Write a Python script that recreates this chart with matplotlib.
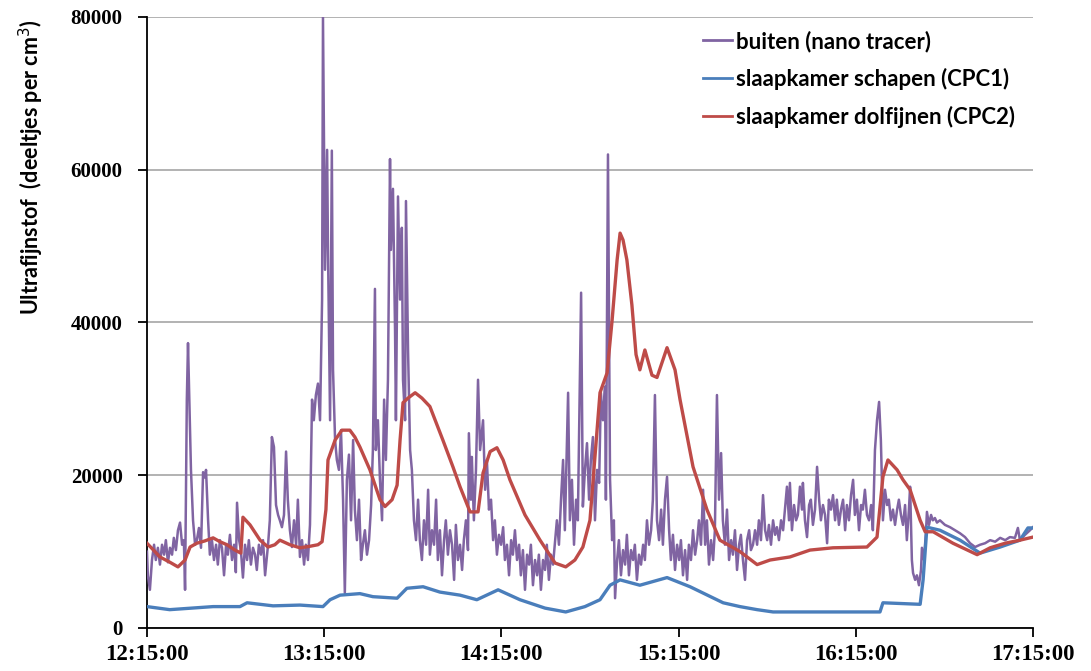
import matplotlib
matplotlib.use("Agg")
import matplotlib.pyplot as plt
from matplotlib.font_manager import FontProperties

# minutes after 12:15:00 and particle counts (deeltjes per cm3)
buiten_t = [
    0.0, 0.3, 1.0, 1.7, 2.4, 3.0, 3.7, 4.4, 5.1, 5.8, 6.4, 7.1, 7.8, 8.5, 9.1, 9.8, 10.5, 11.2, 11.9, 12.5,
    12.9, 13.5, 13.9, 14.2, 14.9, 15.6, 16.3, 16.9, 17.6, 18.3, 19.0, 19.6, 20.0, 20.7, 21.3, 22.0, 22.7, 23.4,
    24.0, 24.7, 25.4, 26.1, 26.8, 27.4, 28.1, 28.8, 29.5, 30.1, 30.5, 31.2, 31.8, 32.5, 33.2, 33.9, 34.5, 35.2,
    35.9, 36.6, 37.2, 37.9, 38.6, 39.3, 40.0, 41.0, 41.6, 42.3, 43.0, 43.7, 44.4, 45.0, 45.7, 46.4, 47.1, 47.7,
    48.4, 49.1, 49.8, 50.5, 51.1, 51.8, 52.5, 53.2, 53.8, 54.5, 55.2, 55.9, 56.5, 57.2, 57.9, 58.6, 59.3, 59.6,
    59.9, 60.3, 61.0, 61.3, 62.0, 62.6, 63.0, 63.7, 64.3, 65.0, 65.7, 66.4, 67.0, 67.7, 68.4, 69.1, 69.8, 70.4,
    71.1, 71.8, 72.5, 73.1, 73.8, 74.5, 75.2, 75.9, 76.5, 77.2, 77.5, 78.2, 78.9, 79.6, 80.3, 80.9, 81.6, 82.3,
    82.6, 83.3, 84.0, 84.3, 85.0, 85.7, 86.3, 86.7, 87.4, 87.7, 88.4, 89.1, 89.7, 90.4, 91.1, 91.8, 92.4, 93.1,
    93.8, 94.5, 95.2, 95.8, 96.5, 97.2, 97.9, 98.5, 99.2, 99.9, 100.6, 101.2, 101.9, 102.6, 103.3, 104.0, 104.6,
    105.3, 106.0, 106.7, 107.3, 108.0, 108.7, 109.0, 109.7, 110.0, 110.7, 111.4, 112.1, 112.8, 113.8, 114.5,
    115.1, 115.8, 116.5, 117.2, 117.8, 118.5, 119.2, 119.9, 120.6, 121.2, 121.9, 122.6, 123.3, 123.9, 124.6,
    125.3, 126.0, 126.6, 127.3, 128.0, 128.7, 129.4, 130.0, 130.7, 131.4, 132.1, 132.7, 133.4, 134.1, 134.8,
    135.4, 136.1, 136.8, 137.5, 138.2, 138.8, 139.5, 140.2, 140.9, 141.5, 142.6, 143.2, 143.9, 144.6, 145.3,
    145.9, 147.0, 147.6, 148.3, 149.0, 149.7, 150.3, 151.0, 151.7, 152.4, 153.1, 153.7, 154.4, 155.1, 155.4,
    156.1, 156.8, 157.5, 158.1, 158.5, 159.2, 159.8, 160.5, 161.2, 161.9, 162.5, 163.2, 163.9, 164.6, 165.2,
    165.9, 166.6, 167.3, 168.0, 168.6, 169.3, 170.0, 170.7, 171.3, 172.0, 172.7, 173.4, 174.1, 174.7, 175.4,
    176.1, 176.8, 177.4, 178.1, 178.8, 179.5, 180.2, 180.8, 181.5, 182.2, 182.9, 183.5, 184.2, 184.9, 185.6,
    186.3, 186.9, 187.6, 188.3, 189.0, 189.6, 190.3, 191.0, 191.7, 192.3, 193.0, 193.7, 194.4, 195.0, 195.7,
    196.4, 197.1, 197.8, 198.4, 199.1, 199.8, 200.5, 201.1, 201.8, 202.5, 203.2, 203.9, 204.5, 205.2, 205.9,
    206.6, 207.2, 207.9, 208.6, 209.3, 210.0, 210.6, 211.3, 212.0, 212.7, 213.3, 214.0, 214.7, 215.4, 216.0,
    216.7, 217.4, 217.7, 218.4, 219.1, 219.8, 220.4, 221.1, 221.8, 222.1, 222.8, 223.5, 224.2, 224.8, 225.5,
    226.2, 226.9, 227.6, 228.2, 228.9, 229.6, 230.3, 230.9, 231.6, 232.3, 233.0, 233.6, 234.3, 235.0, 235.7,
    236.4, 237.0, 237.7, 238.4, 239.1, 239.7, 240.4, 241.1, 241.8, 242.4, 243.1, 243.8, 244.5, 245.2, 245.8,
    246.5, 247.2, 247.9, 248.5, 249.2, 249.9, 250.6, 251.2, 251.9, 252.6, 253.3, 254.0, 254.6, 255.3, 256.0,
    256.7, 257.3, 258.0, 258.4, 259.0, 259.4, 260.1, 260.7, 261.4, 262.1, 262.4, 263.1, 263.8, 264.1, 264.8,
    265.5, 266.1, 266.8, 267.5, 268.5, 270.2, 271.9, 273.6, 275.3, 277.0, 278.7, 280.4, 282.1, 283.8, 285.5,
    287.2, 288.9, 290.6, 292.2, 293.9, 294.9, 295.6, 297.3, 299.0, 300.0,
]
buiten_v = [
    10000, 6900, 5000, 8900, 10900, 8900, 10500, 8300, 10900, 9600, 11500, 8600, 10500, 9600, 11800, 10200,
    12800, 13800, 10900, 11500, 5000, 29900, 37300, 32500, 20700, 14100, 10900, 11500, 13100, 10500, 20400,
    19700, 20700, 14100, 9600, 11500, 8900, 10900, 8300, 11500, 10500, 6900, 10900, 9600, 12200, 8900, 10900,
    7300, 16400, 11500, 10200, 6600, 10900, 8900, 11500, 8300, 10500, 9600, 7600, 10900, 9600, 11500, 6900,
    10900, 14100, 25000, 23700, 16100, 14800, 14100, 13200, 14800, 23100, 16800, 12800, 10600, 14100, 10900,
    16800, 9300, 11500, 8300, 10900, 8900, 13500, 29900, 27200, 30500, 32000, 27200, 43000, 80000, 65500,
    46900, 62600, 49500, 27200, 62500, 33800, 24600, 22000, 20700, 25900, 16800, 4600, 19400, 22700, 14100,
    24600, 15500, 11500, 16800, 8900, 10900, 12800, 9600, 11500, 16100, 23300, 44400, 23300, 27200, 19400,
    14100, 29900, 22000, 32500, 61400, 49500, 57500, 39000, 27200, 56500, 43000, 52400, 32500, 27200, 55900,
    36400, 23300, 20700, 14100, 11500, 16800, 11500, 8900, 14100, 10900, 18100, 9600, 12800, 10900, 16800,
    8900, 12800, 6900, 11500, 14100, 9600, 12800, 10900, 6300, 13500, 8900, 10900, 7600, 11500, 14100, 10200,
    25500, 16800, 22400, 14100, 20700, 32500, 23300, 27200, 18100, 22000, 15500, 16800, 11500, 14100, 9600,
    12200, 10900, 13200, 8900, 10900, 6900, 11500, 9600, 12800, 8900, 10900, 6900, 10200, 5000, 9600, 8300,
    10900, 5600, 8900, 6900, 9600, 5000, 8900, 7600, 10900, 6300, 9600, 8300, 11500, 14100, 10900, 16800,
    22000, 12800, 30800, 14100, 19400, 10900, 16800, 14100, 43900, 15900, 20700, 24200, 16800, 22000, 25000,
    14100, 20700, 19000, 30800, 27200, 31600, 16800, 62000, 19400, 11500, 14100, 3900, 8900, 11500, 6900,
    10200, 8300, 12200, 6900, 10200, 8900, 10900, 6300, 9600, 8300, 10900, 8900, 14100, 10900, 12800, 16800,
    30500, 14100, 11500, 15500, 10900, 16800, 19800, 12800, 8900, 12200, 7600, 10900, 8900, 11500, 6900,
    10200, 6300, 10900, 8900, 12800, 9600, 11500, 14100, 10900, 18100, 10900, 14100, 8300, 11500, 8900,
    12800, 30500, 16800, 22900, 14100, 10900, 15500, 8900, 11500, 9600, 12800, 7600, 10900, 12200, 8900,
    6300, 11500, 12800, 10200, 10900, 12800, 10900, 14100, 11500, 17400, 12800, 11500, 13500, 10900, 14100,
    12200, 13200, 11500, 14100, 12800, 15500, 18500, 14100, 19000, 12800, 16100, 14100, 14800, 18500, 15500,
    19000, 14100, 11900, 16100, 16800, 13500, 15500, 21100, 16800, 14100, 16100, 14800, 11100, 16800, 15500,
    17400, 14100, 16800, 13500, 15500, 16800, 12800, 16100, 14100, 17400, 19400, 14800, 16800, 12800, 16100,
    15500, 18100, 14800, 14100, 16100, 12800, 23300, 27200, 29600, 24600, 14100, 18100, 16100, 16800, 14100,
    15500, 13500, 15500, 16800, 14800, 13500, 16100, 11500, 15500, 18500, 8900, 7200, 6300, 6900, 5600, 7600,
    10500, 8900, 12800, 15200, 13500, 14800, 14100, 14400, 13800, 14100, 13500, 13200, 12800, 12400, 11900,
    11100, 10600, 10900, 11100, 11500, 11300, 11800, 11500, 11900, 11800, 13100, 11500, 12200, 12800, 13200,
]

schapen_t = [
    0.0, 7.7, 22.4, 31.5, 33.9, 42.7, 51.8, 59.6, 62.0, 65.4, 72.1, 76.5, 84.7, 88.0, 93.5, 99.2, 106.0,
    111.7, 118.9, 126.3, 134.8, 141.8, 148.3, 153.4, 156.8, 160.2, 166.9, 176.1, 183.9, 195.1, 200.8, 206.6,
    212.0, 248.2, 249.2, 261.8, 262.8, 264.1, 268.5, 275.3, 282.1, 288.9, 295.6, 298.3, 300.0,
]
schapen_v = [
    2800, 2400, 2800, 2800, 3300, 2900, 3000, 2800, 3700, 4300, 4500, 4100, 3900, 5200, 5400, 4700, 4300,
    3700, 5000, 3700, 2600, 2100, 2800, 3700, 5600, 6300, 5600, 6600, 5400, 3300, 2800, 2400,
    2100, 2100, 3300, 3100, 6300, 13200, 12800, 11500, 9800, 10600, 11500, 13100, 13100,
]

dolfijnen_t = [
    0.0, 4.4, 7.8, 10.5, 12.9, 14.6, 16.9, 19.6, 22.4, 24.7, 27.1, 29.8, 31.8, 32.5, 34.9, 38.3, 41.0, 43.3,
    45.0, 48.4, 51.8, 55.2, 57.9, 59.3, 60.6, 61.3, 63.7, 66.0, 68.7, 70.4, 72.1, 75.5, 78.9, 80.6, 83.0,
    84.7, 85.7, 86.7, 88.4, 90.8, 93.1, 95.8, 100.2, 103.6, 106.0, 109.4, 112.1, 113.8, 116.2, 118.5, 120.6,
    122.9, 128.0, 133.1, 138.2, 141.8, 144.9, 147.6, 150.0, 152.4, 153.4, 155.8, 157.5, 159.2, 160.2, 161.2,
    162.5, 164.2, 165.6, 166.9, 168.6, 171.0, 172.7, 176.1, 178.8, 180.5, 184.9, 189.6, 194.0, 200.8, 206.6,
    211.0, 217.7, 224.5, 232.3, 243.8, 247.2, 249.2, 250.9, 254.0, 256.0, 258.4, 261.8, 263.5, 266.2, 272.9,
    281.1, 285.5, 290.6, 295.6, 300.0,
]
dolfijnen_v = [
    11100, 9300, 8600, 8000, 8900, 10600, 11100, 11400, 11800, 11300, 10900, 10200, 9800, 14500, 13500,
    11500, 10600, 10900, 11500, 10900, 10500, 10700, 10900, 11300, 15500, 22000, 24600, 25900, 25900, 25000,
    23700, 20700, 16800, 15900, 16800, 18700, 24600, 29500, 30100, 30800, 30100, 29000, 24600, 21100, 18500,
    15200, 15200, 20300, 23100, 23600, 22000, 19400, 14800, 11500, 8500, 8000, 8900, 10600, 14100, 25900,
    30800, 33400, 40300, 48200, 51700, 50800, 48200, 42300, 35800, 33800, 36400, 33100, 32800, 36700, 33800,
    29900, 21100, 15500, 11500, 10000, 8300, 8900, 9300, 10200, 10500, 10600, 11900, 19800, 22000, 20700,
    19400, 18100, 14100, 12600, 12600, 11100, 9600, 10500, 11100, 11500, 11900,
]

hour_ticks = [0, 60, 120, 180, 240, 300]
hour_labels = ["12:15:00", "13:15:00", "14:15:00", "15:15:00", "16:15:00", "17:15:00"]
y_ticks = [0, 20000, 40000, 60000, 80000]

fig = plt.figure(figsize=(10.91, 6.71), dpi=100)
ax = fig.add_axes([0.1347, 0.0641, 0.8121, 0.9106])

ax.plot(buiten_t, buiten_v, color="#8064A2", lw=1.8, label="buiten (nano tracer)", zorder=3)
ax.plot(schapen_t, schapen_v, color="#4A7EBB", lw=2.4, label="slaapkamer schapen (CPC1)", zorder=4)
ax.plot(dolfijnen_t, dolfijnen_v, color="#BE4B48", lw=2.4, label="slaapkamer dolfijnen (CPC2)", zorder=5)

ax.set_xlim(0, 300)
ax.set_ylim(0, 80000)

ax.tick_params(axis="both", direction="out", length=6.5, width=1.3, color="black")
ax.tick_params(axis="x", pad=5)
ax.tick_params(axis="y", pad=11)

ax.set_xticks(hour_ticks, labels=hour_labels,
              fontproperties=FontProperties(family="Liberation Serif", weight="bold", size=16.5))
ax.set_yticks(y_ticks, labels=[str(v) for v in y_ticks],
              fontproperties=FontProperties(family="Liberation Serif", weight="bold", size=15))

ax.grid(axis="y", color="#a6a6a6", lw=1.2)
ax.set_axisbelow(True)
for side in ["top", "right"]:
    ax.spines[side].set_visible(False)
for side in ["left", "bottom"]:
    ax.spines[side].set_color("black")
    ax.spines[side].set_linewidth(1.3)

ax.set_ylabel("Ultrafijnstof  (deeltjes per cm$^3$)", family="Lato", weight="bold", size=15.5)
ax.yaxis.set_label_coords(-0.114, 0.755)

leg = ax.legend(loc="upper left", bbox_to_anchor=(0.628, 0.978), frameon=False, handlelength=1.3,
                handletextpad=0.15, labelspacing=0.72, borderpad=0, borderaxespad=0,
                prop={"family": "Lato", "weight": "bold", "size": 16})
for line in leg.get_lines():
    line.set_linewidth(2.0)

fig.savefig("out.png", dpi=100)
